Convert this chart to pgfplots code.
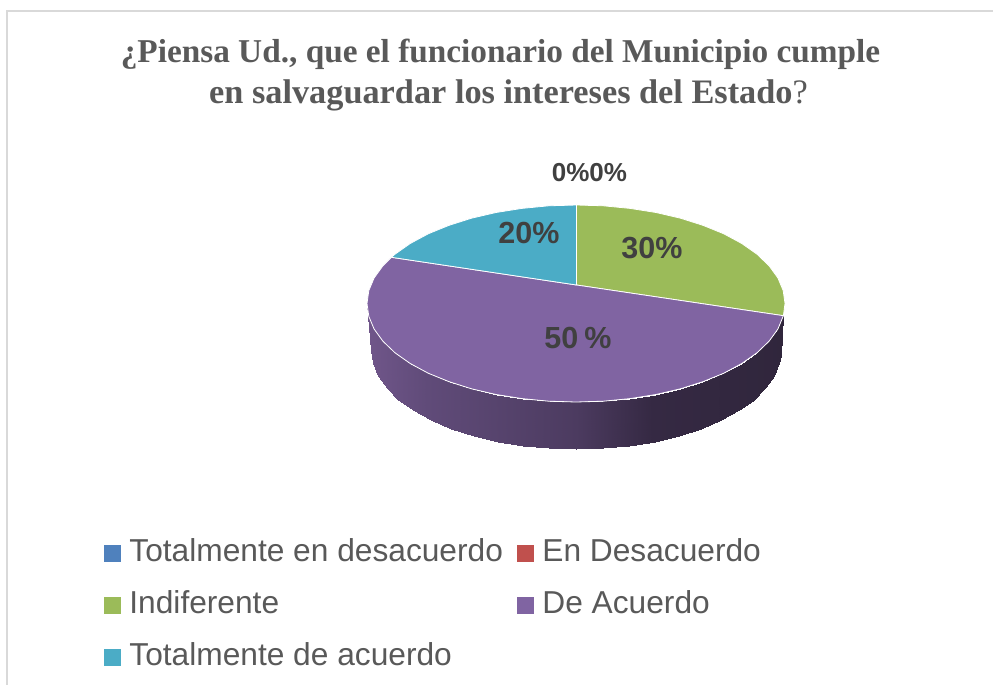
\documentclass[border=0pt]{standalone}
\usepackage{fontspec}
\setmainfont{Liberation Sans}
\newfontfamily\titlefont{Liberation Serif}
\usepackage{pgfplots}
\pgfplotsset{compat=1.18}
\definecolor{txt}{HTML}{595959}
\definecolor{lab}{HTML}{404040}
\definecolor{cblue}{HTML}{4F81BD}
\definecolor{cred}{HTML}{C0504D}
\definecolor{cgreen}{HTML}{9BBB59}
\definecolor{cpurple}{HTML}{8064A2}
\definecolor{cteal}{HTML}{4BACC6}
\begin{document}
\begin{tikzpicture}
\begin{axis}[
  width=993pt,height=685pt,scale only axis,
  xmin=0,xmax=993,ymin=0,ymax=685,y dir=reverse,hide axis,clip=true,
  colormap={side}{rgb255(0pt)=(112,86,138) rgb255(60pt)=(96,75,121) rgb255(209pt)=(76,59,96) rgb255(285pt)=(53,41,67) rgb255(419pt)=(48,38,60)},
  legend style={at={(axis cs:104,538)},anchor=north west,draw=none,fill=none,inner sep=0pt,outer sep=0pt,
    font=\fontsize{31.7}{36}\selectfont\color{txt},
    nodes={inner sep=0pt,text height=23pt,text depth=7pt},
    /tikz/row sep=22pt,
    /tikz/every even column/.append style={column sep=14pt}},
  legend columns=2,legend cell align=left,
  legend image code/.code={\path[#1,draw=none] (0pt,-8.5pt) rectangle (17pt,8.5pt);\path (25pt,0pt);},
]
% page extent
\addplot[forget plot,draw=none] coordinates {(0,0)(993,685)};
% frame
\addplot[forget plot,color=black!15,line width=1.6pt] coordinates {(7,685)(7,11)(993,11)};
% side wall
\addplot[forget plot,patch,patch type=rectangle,shader=interp,point meta=x,point meta min=367,point meta max=786] coordinates {
(783.4,315.7)(783.2,316.4)(779.2,363)(780.7,355)
(783.2,316.4)(777.9,329)(774.1,375.6)(779.2,363)
(777.9,329)(769.1,341.2)(765.4,387.9)(774.1,375.6)
(769.1,341.2)(757,352.8)(753.6,399.5)(765.4,387.9)
(757,352.8)(741.8,363.5)(738.6,410.3)(753.6,399.5)
(741.8,363.5)(723.8,373.2)(721,420)(738.6,410.3)
(723.8,373.2)(703.2,381.6)(700.8,428.5)(721,420)
(703.2,381.6)(680.5,388.8)(678.5,435.7)(700.8,428.5)
(680.5,388.8)(656,394.5)(654.5,441.5)(678.5,435.7)
(656,394.5)(630.1,398.6)(629.1,445.6)(654.5,441.5)
(630.1,398.6)(603.3,401.2)(602.8,448.2)(629.1,445.6)
(603.3,401.2)(576,402)(576,449)(602.8,448.2)
(576,402)(548.7,401.2)(549.2,448.2)(576,449)
(548.7,401.2)(521.9,398.6)(522.9,445.6)(549.2,448.2)
(521.9,398.6)(496,394.5)(497.5,441.5)(522.9,445.6)
(496,394.5)(471.5,388.8)(473.5,435.7)(497.5,441.5)
(471.5,388.8)(448.8,381.6)(451.2,428.5)(473.5,435.7)
(448.8,381.6)(428.2,373.2)(431,420)(451.2,428.5)
(428.2,373.2)(410.2,363.5)(413.4,410.3)(431,420)
(410.2,363.5)(395,352.8)(398.4,399.5)(413.4,410.3)
(395,352.8)(382.9,341.2)(386.6,387.9)(398.4,399.5)
(382.9,341.2)(374.1,329)(377.9,375.6)(386.6,387.9)
(374.1,329)(368.8,316.4)(372.8,363)(377.9,375.6)
(368.8,316.4)(367,303.5)(371,350)(372.8,363)
};
% Totalmente en desacuerdo 0 %, En Desacuerdo 0 %: wedges of no width
\addplot[fill=cblue,draw=none] coordinates {(576.5,285)(576.5,205)};
\addlegendentry{Totalmente en desacuerdo}
\addplot[fill=cred,draw=none] coordinates {(576.5,285)(576.5,205)};
\addlegendentry{En Desacuerdo}
% Indiferente
\addplot[fill=cgreen,draw=white,line width=0.8pt] coordinates {(576.5,285)(576.5,205)(603.3,205.8)(630.1,208.4)(656,212.5)(680.5,218.2)(703.2,225.4)(723.8,233.8)(741.8,243.5)(757,254.2)(769.1,265.8)(777.9,278)(783.2,290.6)(785,303.5)(783.4,315.7)} --cycle;
\addlegendentry{Indiferente}
% De Acuerdo
\addplot[fill=cpurple,draw=white,line width=0.8pt] coordinates {(576.5,285)(783.4,315.7)(777.9,329)(769.1,341.2)(757,352.8)(741.8,363.5)(723.8,373.2)(703.2,381.6)(680.5,388.8)(656,394.5)(630.1,398.6)(603.3,401.2)(576,402)(548.7,401.2)(521.9,398.6)(496,394.5)(471.5,388.8)(448.8,381.6)(428.2,373.2)(410.2,363.5)(395,352.8)(382.9,341.2)(374.1,329)(368.8,316.4)(367,303.5)(368.8,290.6)(374.1,278)(382.9,265.8)(391.4,257.3)} --cycle;
\addlegendentry{De Acuerdo}
% Totalmente de acuerdo
\addplot[fill=cteal,draw=white,line width=0.8pt] coordinates {(576.5,285)(391.4,257.3)(395,254.2)(410.2,243.5)(428.2,233.8)(448.8,225.4)(471.5,218.2)(496,212.5)(521.9,208.4)(548.7,205.8)(576.5,205)} --cycle;
\addlegendentry{Totalmente de acuerdo}
% title
\node[font=\titlefont\bfseries\fontsize{33.3}{36}\selectfont,text=txt,inner sep=0pt] at (axis cs:500.5,54) {¿Piensa Ud., que el funcionario del Municipio cumple};
\node[font=\titlefont\bfseries\fontsize{34.3}{36}\selectfont,text=txt,inner sep=0pt] at (axis cs:508.5,95) {en salvaguardar los intereses del Estado{\mdseries ?}};
% data labels
\node[font=\bfseries\fontsize{26}{30}\selectfont,text=lab,inner sep=0pt] at (axis cs:589.5,173) {0\%0\%};
\node[font=\bfseries\fontsize{30.5}{34}\selectfont,text=lab,inner sep=0pt] at (axis cs:529,233) {20\%};
\node[font=\bfseries\fontsize{30.5}{34}\selectfont,text=lab,inner sep=0pt] at (axis cs:652,248) {30\%};
\node[font=\bfseries\fontsize{30.5}{34}\selectfont,text=lab,inner sep=0pt] at (axis cs:578,338) {50\kern6pt\%};
\end{axis}
\end{tikzpicture}
\end{document}
